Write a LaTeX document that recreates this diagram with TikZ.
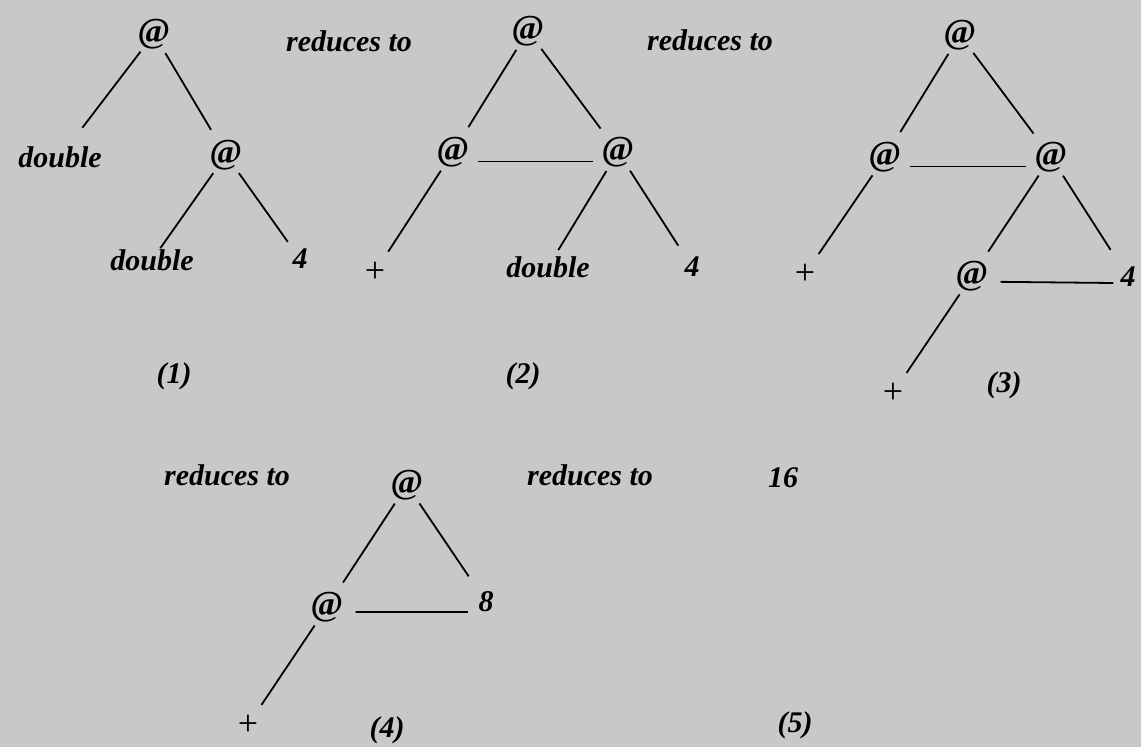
\documentclass[tikz,border=0pt]{standalone}
\usepackage{fontspec}
\setmainfont{Liberation Serif}
\definecolor{paper}{RGB}{200,200,200}
\begin{document}
\begin{tikzpicture}[x=1pt,y=-1pt,
  txt/.style={inner sep=0pt,font=\fontsize{30}{32}\selectfont\bfseries\itshape},
  word/.style={txt,inner sep=1pt},
  num/.style={txt,inner sep=7pt},
  app/.style={circle,inner sep=0pt,minimum size=44pt,font=\fontsize{35}{36}\selectfont\bfseries},
  plus/.style={circle,inner sep=0pt,minimum size=48pt,font=\fontsize{36}{36}\selectfont},
  link/.style={line width=1.8pt},
  toapp/.style={link,shorten >=7pt},
  bar/.style={link,shorten <=5pt,shorten >=5pt}]
\fill[paper] (0,0) rectangle (1141,747);
\useasboundingbox (0,0) rectangle (1141,747);

% ---- tree (1)
\node[app]  (a1) at (154,34)  {@};
\node[word] (d1) at (60,157)  {double};
\node[app]  (b1) at (226,155) {@};
\node[word] (d2) at (152,260) {double};
\node[num]  (f1) at (300,259) {4};
\node[txt]  (n1) at (174,376) {(1)};
\node[txt]  (t1) at (349,41)  {reduces to};
\draw[link,shorten >=22pt] (a1) -- (d1);
\draw[toapp] (a1) -- (b1);
\draw[link] (b1) -- (d2);
\draw[link] (b1) -- (f1);

% ---- tree (2)
\node[app]  (a2) at (528,31)  {@};
\node[app]  (l2) at (453,152) {@};
\node[app]  (m2) at (618,152) {@};
\node[plus] (p2) at (375,272) {+};
\node[word] (d3) at (548,267) {double};
\node[num]  (f2) at (692,267) {4};
\node[txt]  (n2) at (523,376) {(2)};
\node[txt]  (t2) at (710,40)  {reduces to};
\draw[toapp] (a2) -- (l2);
\draw[toapp] (a2) -- (m2);
\draw[bar] (l2.-25) -- (m2.-155);
\draw[link] (l2) -- (p2);
\draw[link,shorten >=6pt] (m2) -- (d3);
\draw[link,shorten >=5pt] (m2) -- (f2);

% ---- tree (3)
\node[app]  (a3) at (960,35)   {@};
\node[app]  (l3) at (885,157)  {@};
\node[app]  (m3) at (1051,157) {@};
\node[plus] (p3) at (805,274)  {+};
\node[app]  (o3) at (972,276)  {@};
\node[num]  (f3) at (1128,277) {4};
\node[plus] (q3) at (893,393)  {+};
\node[txt]  (n3) at (1004,385) {(3)};
\draw[toapp] (a3) -- (l3);
\draw[toapp] (a3) -- (m3);
\draw[bar] (l3.-25) -- (m3.-155);
\draw[link] (l3) -- (p3);
\draw[toapp] (m3) -- (o3);
\draw[link,shorten >=12pt] (m3) -- (f3);
\draw[link,shorten <=7pt] (o3.-15) -- ([yshift=-6pt]f3.west);
\draw[link] (o3) -- (q3);

% ---- tree (4)
\node[txt]  (t3) at (227,475) {reduces to};
\node[app]  (a4) at (407,485) {@};
\node[app]  (l4) at (327,607) {@};
\node[num]  (e8) at (486,602) {8};
\node[plus] (p4) at (248,725) {+};
\node[txt]  (n4) at (387,730) {(4)};
\draw[toapp] (a4) -- (l4);
\draw[link,shorten >=10pt] (a4) -- (e8);
\draw[link,shorten <=7pt,shorten >=3.5pt] (l4.-13) -- ([yshift=-10pt]e8.west);
\draw[link] (l4) -- (p4);

% ---- result (5)
\node[txt]  (t4) at (590,475) {reduces to};
\node[txt]  (r5) at (783,478) {16};
\node[txt]  (n5) at (795,725) {(5)};
\end{tikzpicture}
\end{document}
